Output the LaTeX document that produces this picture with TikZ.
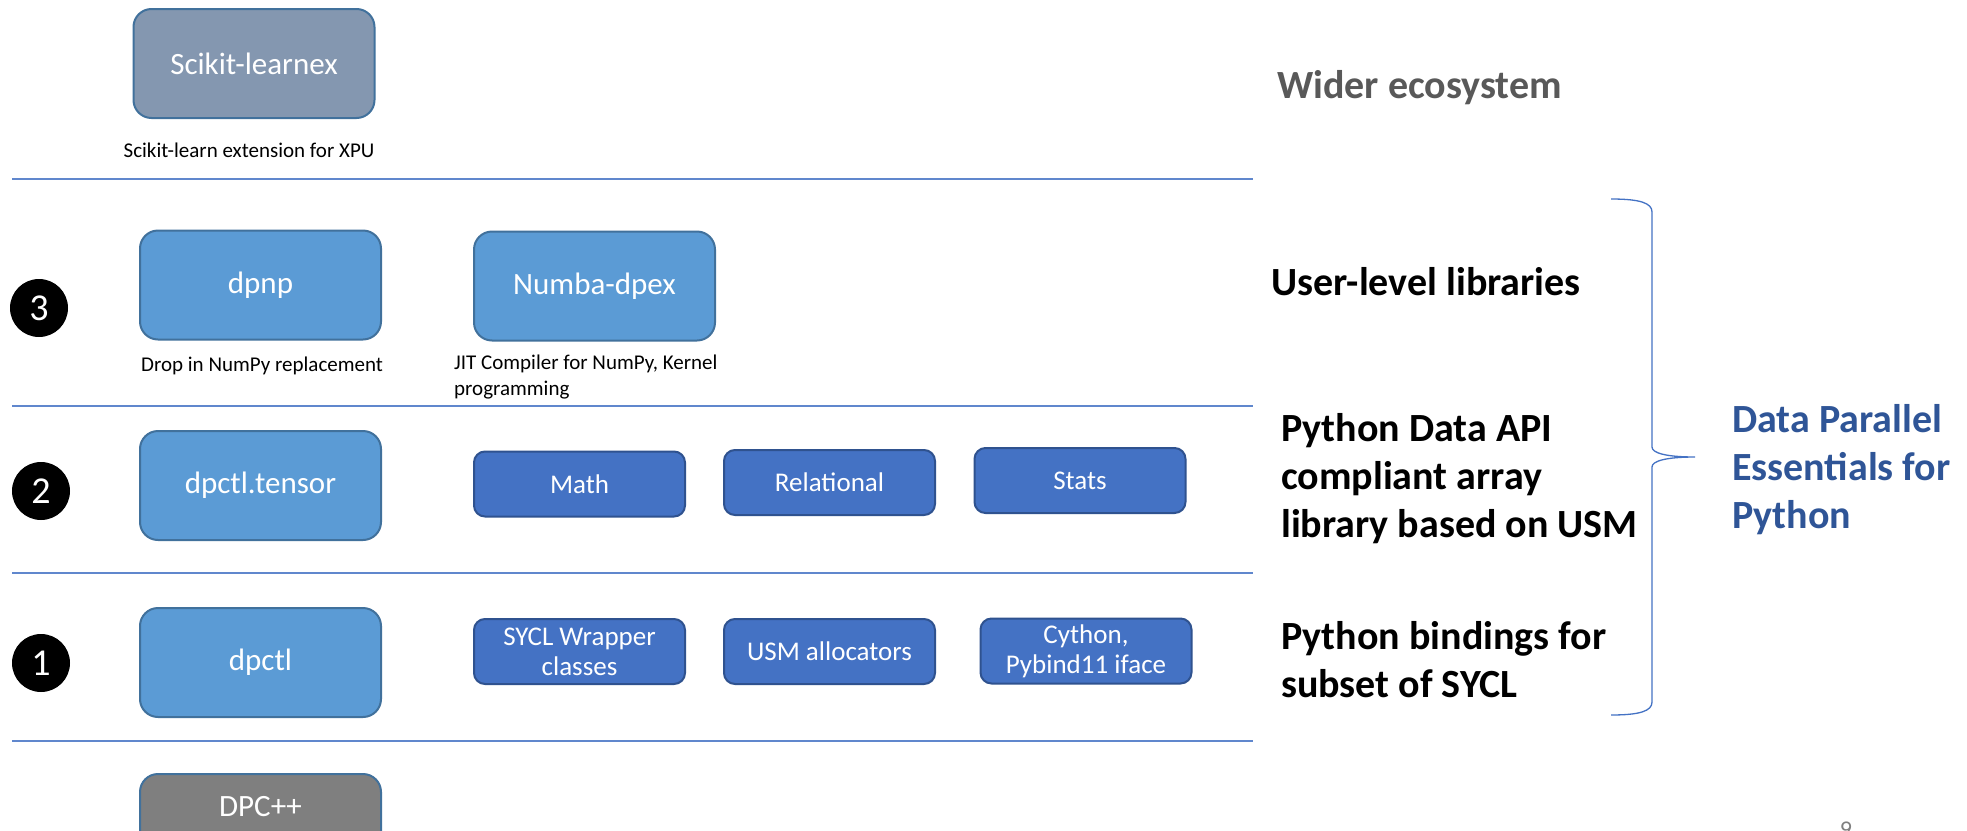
\documentclass[tikz,border=0pt]{standalone}
\usepackage{fontspec}
\setmainfont{Carlito}
\usetikzlibrary{positioning}
\definecolor{layerblue}{HTML}{5B9BD5}
\definecolor{layeredge}{HTML}{41719C}
\definecolor{partblue}{HTML}{4472C4}
\definecolor{partedge}{HTML}{2F528F}
\definecolor{extgray}{HTML}{8497B0}
\definecolor{basegray}{HTML}{7F7F7F}
\definecolor{dpeblue}{HTML}{2F5597}
\definecolor{ecogray}{HTML}{595959}
\tikzset{
    bigbox/.style={
        draw=layeredge, fill=layerblue, line width=2pt, rounded corners=18pt,
        minimum width=241pt, minimum height=109pt, inner sep=0pt,
        text=white, font=\fontsize{31}{37}\selectfont
    },
    partbox/.style={
        draw=partedge, fill=partblue, line width=2pt, rounded corners=11pt,
        minimum width=211pt, minimum height=65pt, inner sep=0pt,
        text=white, align=center, font=\fontsize{27}{32}\selectfont
    },
    caption/.style={inner sep=0pt, align=left, font=\fontsize{21}{26}\selectfont},
    level/.style={inner sep=0pt, anchor=west, align=left, font=\fontsize{40}{48}\selectfont\bfseries},
    divider/.style={draw=partblue!85, line width=1.3pt},
    stepnum/.style={
        circle, fill=black, minimum size=58pt, inner sep=0pt,
        text=white, font=\fontsize{38}{44}\selectfont
    }
}
\begin{document}
\begin{tikzpicture}[x=1pt,y=-1pt]
		\clip (0,0) rectangle (1967,830);
		\fill[white] (0,0) rectangle (1967,830);

		% Layer dividers
		\foreach \y in {179,406,573,741}
			\draw[divider] (12,\y) -- (1253,\y);

		% Wider ecosystem
		\node[bigbox, fill=extgray] (sklex) at (254,63.5) {Scikit-learnex};
		\node[caption] (sklexcap) at (249,150) {Scikit-learn extension for XPU};
		\node[level, text=ecogray] (ecosys) at (1277,88) {Wider ecosystem};

		% Layer 3
		\node[stepnum] (num3) at (39,308) {3};
		\node[bigbox] (dpnp) at (260.5,285) {dpnp};
		\node[bigbox] (numba) at (594.5,286) {Numba-dpex};
		\node[caption, anchor=west] (dpnpcap) at (141,366) {Drop in NumPy replacement};
		\node[caption, anchor=north west] (numbacap) at (454,355) {JIT Compiler for NumPy, Kernel\\programming};
		\node[level] (userlib) at (1271,282) {User-level libraries};

		% Layer 2
		\node[stepnum] (num2) at (41,491) {2};
		\node[bigbox] (tensor) at (260.5,485.5) {dpctl.tensor};
		\node[partbox] (math) at (579.5,484) {Math};
		\node[partbox] (relational) at (829.5,482.5) {Relational};
		\node[partbox] (stats) at (1080,480.5) {Stats};
		\node[level] (arraylib) at (1281,479) {Python Data API\\compliant array\\library based on USM};

		% Layer 1
		\node[stepnum] (num1) at (41,663) {1};
		\node[bigbox] (dpctl) at (260.5,662.5) {dpctl};
		\node[partbox] (wrapper) at (579.5,651.5) {SYCL Wrapper\\[-2pt]classes};
		\node[partbox] (usm) at (829.5,651.5) {USM allocators};
		\node[partbox] (cython) at (1086,651) {Cython,\\[-2pt]Pybind11 iface};
		\node[level] (bindings) at (1281,660) {Python bindings for\\subset of SYCL};

		% Base
		\node[bigbox, fill=basegray, anchor=north] (dpcpp) at (260.5,773) {};
		\node[text=white, font=\fontsize{31}{37}\selectfont] (dpcpplabel) at (260.5,807) {DPC++};

		% Brace round layers 1 to 3
		\draw[partblue, line width=1.3pt]
			(1611,199) .. controls (1640,199) and (1652,203) .. (1652,212)
			-- (1652,447) .. controls (1652,453) and (1666,457) .. (1695,457)
			.. controls (1666,457) and (1652,461) .. (1652,467)
			-- (1652,702) .. controls (1652,711) and (1640,715) .. (1611,715);
		\node[level, text=dpeblue] (dpe) at (1732,470) {Data Parallel\\Essentials for\\Python};

		% Slide number
		\node[inner sep=0pt, anchor=north, text=gray, font=\fontsize{24}{28}\selectfont] (pagenum) at (1846,822) {9};
	\end{tikzpicture}
\end{document}
